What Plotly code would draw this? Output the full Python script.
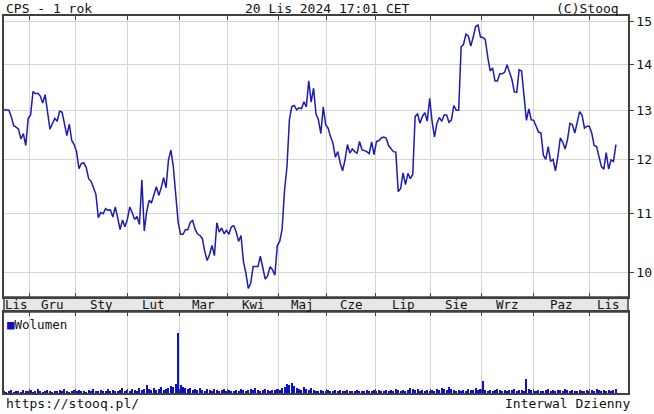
import plotly.graph_objects as go

# ---- data ----
price = [
    13.01, 13.0, 13.0, 12.87, 12.68, 12.65, 12.61, 12.41, 12.52, 12.28,
    12.83, 12.9, 13.4, 13.35, 13.36, 13.3, 13.15, 13.33, 13.0, 12.61,
    12.72, 12.83, 12.77, 12.98, 12.96, 12.73, 12.48, 12.71, 12.38, 12.3,
    12.16, 11.83, 11.93, 11.94, 11.85, 11.64, 11.59, 11.47, 11.35, 10.93,
    11.02, 11.0, 11.09, 11.06, 11.07, 10.94, 11.12, 10.93, 10.72, 10.89,
    10.77, 10.9, 11.12, 11.02, 10.9, 10.95, 10.81, 11.62, 10.7, 11.04,
    11.24, 11.2, 11.34, 11.49, 11.33, 11.47, 11.66, 11.47, 12.0, 12.19,
    11.87, 11.38, 10.85, 10.64, 10.64, 10.72, 10.72, 10.85, 10.88, 10.73,
    10.65, 10.62, 10.57, 10.35, 10.2, 10.3, 10.45, 10.28, 10.84, 10.68,
    10.75, 10.65, 10.71, 10.64, 10.77, 10.79, 10.68, 10.52, 10.62, 10.18,
    10.0, 9.75, 9.83, 10.1, 10.1, 10.1, 10.27, 10.05, 9.9, 9.95,
    10.1, 10.05, 9.96, 10.45, 10.52, 10.73, 11.43, 11.87, 12.8, 13.08,
    13.1, 13.01, 13.05, 13.03, 13.18, 13.07, 13.63, 13.17, 13.47, 12.92,
    12.8, 12.52, 13.07, 12.7, 12.63, 12.46, 12.33, 12.05, 12.16, 11.94,
    11.79, 12.0, 12.3, 12.13, 12.21, 12.16, 12.13, 12.36, 12.2, 12.18,
    12.16, 12.12, 12.35, 12.1, 12.36, 12.38, 12.43, 12.45, 12.43, 12.28,
    12.21, 12.16, 12.15, 11.4, 11.46, 11.75, 11.53, 11.74, 11.64, 11.72,
    12.87, 12.92, 12.73, 12.87, 12.95, 12.77, 13.25, 12.77, 12.45, 12.73,
    12.85, 12.77, 12.9, 12.9, 12.75, 12.8, 13.1, 13.0, 13.0, 14.4,
    14.46, 14.7, 14.65, 14.42, 14.63, 14.88, 14.92, 14.63, 14.62, 14.57,
    14.17, 13.85, 13.92, 13.63, 13.63, 13.79, 13.79, 13.82, 13.99, 13.8,
    13.66, 13.39, 13.38, 13.88, 13.85, 13.31, 12.79, 13.03, 12.8, 12.79,
    12.67, 12.55, 12.53, 12.09, 12.01, 12.26, 11.97, 12.01, 11.79, 12.06,
    12.43, 12.35, 12.21, 12.4, 12.73, 12.7, 12.53, 12.72, 12.97, 12.9,
    12.63, 12.67, 12.67, 12.53, 12.28, 12.26, 12.03, 11.87, 11.82, 12.14,
    11.82, 12.0, 11.97, 12.3,
]

volume = [
    2, 1, 2, 3, 1, 2, 2, 1, 3, 2,
    2, 3, 1, 2, 4, 2, 1, 2, 3, 2,
    1, 2, 2, 3, 2, 4, 2, 1, 2, 3,
    2, 3, 2, 2, 1, 3, 2, 4, 2, 2,
    3, 2, 2, 4, 2, 3, 2, 2, 3, 5,
    2, 3, 2, 4, 3, 2, 5, 3, 4, 8,
    4, 3, 5, 3, 4, 6, 3, 4, 5, 7,
    6, 9, 60, 8, 6, 5, 4, 5, 3, 4,
    3, 5, 3, 2, 4, 3, 2, 4, 3, 2,
    3, 4, 2, 3, 2, 2, 3, 2, 4, 3,
    2, 3, 4, 3, 5, 3, 2, 3, 4, 3,
    2, 3, 3, 4, 3, 5, 6, 9, 8, 10,
    7, 5, 4, 3, 6, 4, 3, 5, 3, 2,
    2, 3, 2, 2, 3, 2, 2, 3, 2, 3,
    2, 2, 3, 2, 2, 2, 3, 2, 2, 2,
    3, 2, 2, 3, 2, 3, 2, 2, 3, 2,
    3, 2, 4, 3, 2, 3, 2, 3, 5, 4,
    3, 4, 2, 3, 2, 3, 2, 3, 2, 4,
    3, 5, 4, 3, 6, 4, 3, 2, 3, 2,
    3, 2, 4, 3, 3, 5, 3, 4, 12, 3,
    2, 3, 2, 3, 4, 3, 2, 3, 2, 3,
    3, 4, 2, 3, 3, 2, 14, 4, 3, 2,
    2, 3, 2, 2, 3, 4, 2, 3, 2, 3,
    3, 2, 4, 3, 2, 3, 2, 2, 3, 2,
    2, 3, 2, 3, 2, 4, 3, 2, 3, 2,
    3, 2, 3, 4,
]

# trading-day index of each month start (grid lines) and month-label centres
month_starts = [10.5, 29.5, 51, 72.5, 92.5, 113.5, 133.5, 153.5, 176.5, 197.5, 219, 242]
month_labels = ["Lis", "Gru", "Sty", "Lut", "Mar", "Kwi", "Maj", "Cze", "Lip", "Sie", "Wrz", "Paz", "Lis"]
x_end = 258
price_ticks = [10, 11, 12, 13, 14, 15]

days = list(range(len(price)))
vdays = list(range(len(volume)))

FONT = "DejaVu Sans Mono"
FRAME = "#404040"
GRID = "#d4d4d4"

fig = go.Figure()
fig.add_trace(go.Scatter(x=days, y=price, mode="lines",
                         line=dict(color="#1c1cb0", width=1.5),
                         xaxis="x", yaxis="y", showlegend=False, hoverinfo="skip"))
fig.add_trace(go.Bar(x=vdays, y=volume, marker=dict(color="#1010c8", line=dict(width=0)),
                     width=0.45, xaxis="x2", yaxis="y2", showlegend=False, hoverinfo="skip"))

P_BOT = 0.2546
V_TOP = 0.2149

common_x = dict(range=[0, x_end], tickvals=month_starts, showticklabels=False,
                ticks="inside", ticklen=4, tickcolor=FRAME, tickwidth=1,
                showgrid=True, gridcolor=GRID, gridwidth=1,
                showline=True, linecolor=FRAME, linewidth=1.5, mirror="ticks",
                zeroline=False, fixedrange=True)

fig.update_layout(
    width=654, height=414,
    margin=dict(l=2, r=22, t=16, b=21),
    paper_bgcolor="white", plot_bgcolor="white",
    font=dict(family=FONT, size=13, color="#111"),
    bargap=0,
    xaxis=dict(domain=[0, 1], anchor="y", **common_x),
    yaxis=dict(domain=[P_BOT, 1], type="log", range=[0.983, 1.180], side="right",
               tickvals=price_ticks, ticktext=[str(v) for v in price_ticks],
               ticks="outside", ticklen=4, tickcolor=FRAME,
               showgrid=True, gridcolor=GRID, gridwidth=1,
               showline=True, linecolor=FRAME, linewidth=1.5, mirror=True,
               tickfont=dict(family=FONT, size=13, color="#111"), fixedrange=True),
    xaxis2=dict(domain=[0, 1], anchor="y2", **common_x),
    yaxis2=dict(domain=[0, V_TOP], range=[0, 81], showticklabels=False, ticks="",
                showgrid=False, showline=True, linecolor=FRAME, linewidth=1.5, mirror=True,
                zeroline=False, fixedrange=True),
)

# grey strip with month names
fig.add_shape(type="rect", xref="paper", yref="paper", x0=0, x1=1, y0=V_TOP, y1=P_BOT,
              fillcolor="#e6e6e6", line=dict(color=FRAME, width=1.5), layer="below")

bounds = [0] + month_starts + [x_end]
for i, lab in enumerate(month_labels):
    cx = (bounds[i] + bounds[i + 1]) / 2
    fig.add_annotation(x=cx, y=(V_TOP + P_BOT) / 2, xref="x", yref="paper", text=lab,
                       showarrow=False, font=dict(family=FONT, size=12.5, color="#111"),
                       xanchor="center", yanchor="middle")

# header / footer texts
fig.add_annotation(x=0, y=1.021, xref="paper", yref="paper", text="CPS - 1 rok",
                   showarrow=False, xanchor="left", yanchor="middle")
fig.add_annotation(x=0.519, y=1.021, xref="paper", yref="paper", text="20 Lis 2024 17:01 CET",
                   showarrow=False, xanchor="center", yanchor="middle")
fig.add_annotation(x=0.988, y=1.021, xref="paper", yref="paper", text="(C)Stooq",
                   showarrow=False, xanchor="right", yanchor="middle")
fig.add_annotation(x=0, y=-0.027, xref="paper", yref="paper", text="https://stooq.pl/",
                   showarrow=False, xanchor="left", yanchor="middle")
fig.add_annotation(x=1.006, y=-0.027, xref="paper", yref="paper", text="Interwal Dzienny",
                   showarrow=False, xanchor="right", yanchor="middle")
fig.add_annotation(x=0.002, y=0.183, xref="paper", yref="paper",
                   text='<span style="color:#1010c8">■</span>Wolumen',
                   showarrow=False, xanchor="left", yanchor="middle",
                   font=dict(family=FONT, size=12.5, color="#111"))

fig.write_html("out.html", config={"displayModeBar": False},
               post_script="document.body.style.margin='0';document.body.style.padding='0';")
